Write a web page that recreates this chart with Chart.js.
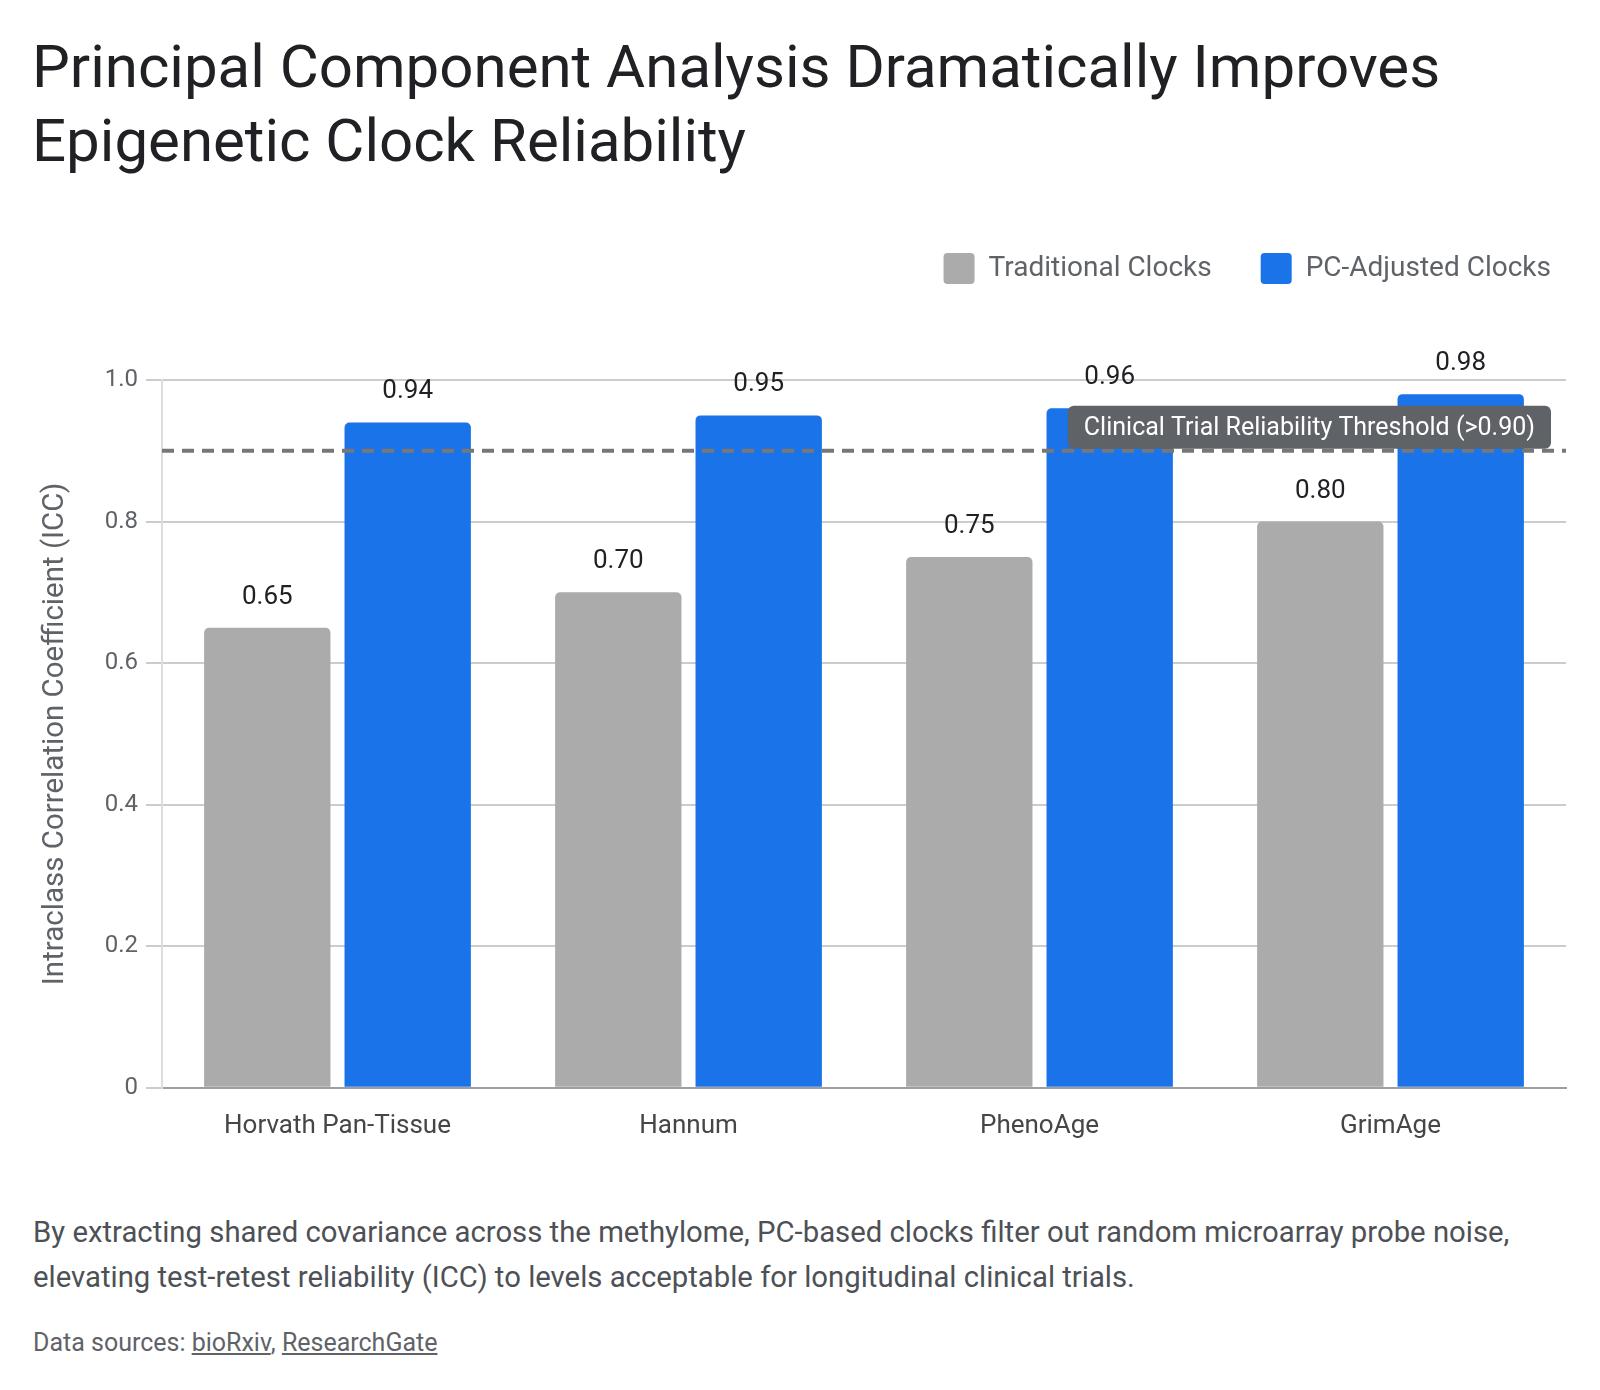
<!DOCTYPE html>
<html>
<head>
<meta charset="utf-8">
<script src="https://cdn.jsdelivr.net/npm/chart.js@4.4.1/dist/chart.umd.min.js"></script>
<style>
  html, body { margin: 0; padding: 0; background: #ffffff; }
  body { width: 1600px; height: 1390px; position: relative; overflow: hidden; font-family: Roboto, "Noto Sans", sans-serif; }
  #title { position: absolute; left: 32px; top: 30px; font-size: 60px; line-height: 74px; color: #202124; font-weight: 400; }
  #wrap { position: absolute; left: 0; top: 184px; width: 1600px; height: 981px; }
  #sub { position: absolute; left: 33px; top: 1210px; width: 1560px; font-size: 29.3px; line-height: 45px; color: #4d5156; white-space: nowrap; }
  #src { position: absolute; left: 33px; top: 1328px; font-size: 25px; color: #5f6368; }
  #src a { color: #5f6368; text-decoration: underline; }
</style>
</head>
<body>
<div id="title">Principal Component Analysis Dramatically Improves<br>Epigenetic Clock Reliability</div>
<div id="wrap"><canvas id="c"></canvas></div>
<div id="sub">By extracting shared covariance across the methylome, PC-based clocks filter out random microarray probe noise,<br>elevating test-retest reliability (ICC) to levels acceptable for longitudinal clinical trials.</div>
<div id="src">Data sources: <a>bioRxiv</a>, <a>ResearchGate</a></div>
<script>
const categories = ["Horvath Pan-Tissue", "Hannum", "PhenoAge", "GrimAge"];
const traditionalICC = [0.65, 0.70, 0.75, 0.80];
const pcAdjustedICC = [0.94, 0.95, 0.96, 0.98];
const seriesNames = ["Traditional Clocks", "PC-Adjusted Clocks"];
const yTicks = [0, 0.2, 0.4, 0.6, 0.8, 1.0];
const thresholdValue = 0.90;
const thresholdLabel = "Clinical Trial Reliability Threshold (>0.90)";
const yAxisTitle = "Intraclass Correlation Coefficient (ICC)";

const FONT = "Roboto, 'Noto Sans', sans-serif";

const legendSpacer = {
  id: 'legendSpacer',
  beforeInit(chart) {
    const origFit = chart.legend.fit;
    chart.legend.fit = function () {
      origFit.bind(chart.legend)();
      this.height += 86;
    };
  },
  afterLayout(chart) {
    chart.legend.left += 34;
    chart.legend.right += 34;
  }
};

const valueLabels = {
  id: 'valueLabels',
  afterDatasetsDraw(chart) {
    const ctx = chart.ctx;
    ctx.save();
    ctx.font = "26px " + FONT;
    ctx.fillStyle = "#202124";
    ctx.textAlign = "center";
    ctx.textBaseline = "alphabetic";
    chart.data.datasets.forEach((ds, di) => {
      const meta = chart.getDatasetMeta(di);
      meta.data.forEach((bar, i) => {
        ctx.fillText(ds.data[i].toFixed(2), bar.x, bar.y - 24);
      });
    });
    ctx.restore();
  }
};

const thresholdPlugin = {
  id: 'threshold',
  afterDatasetsDraw(chart) {
    const ctx = chart.ctx;
    const area = chart.chartArea;
    const y = chart.scales.y.getPixelForValue(thresholdValue);
    ctx.save();
    ctx.strokeStyle = "#777777";
    ctx.lineWidth = 4;
    ctx.setLineDash([12, 8]);
    ctx.beginPath();
    ctx.moveTo(area.left, y);
    ctx.lineTo(area.right, y);
    ctx.stroke();
    ctx.setLineDash([]);
    ctx.font = "25px " + FONT;
    const tw = ctx.measureText(thresholdLabel).width;
    const padX = 16, h = 43;
    const right = area.right - 15;
    const left = right - tw - padX * 2;
    const top = y - 2 - h;
    ctx.fillStyle = "#5f6368";
    ctx.beginPath();
    ctx.roundRect(left, top, right - left, h, 6);
    ctx.fill();
    ctx.fillStyle = "#ffffff";
    ctx.textAlign = "left";
    ctx.textBaseline = "middle";
    ctx.fillText(thresholdLabel, left + padX, top + h / 2 + 1);
    ctx.restore();
  }
};

new Chart(document.getElementById('c'), {
  type: 'bar',
  data: {
    labels: categories,
    datasets: [
      { label: seriesNames[0], data: traditionalICC, backgroundColor: "#ababab", borderRadius: 5, borderSkipped: 'bottom', categoryPercentage: 0.8, barPercentage: 0.9 },
      { label: seriesNames[1], data: pcAdjustedICC, backgroundColor: "#1a73e8", borderRadius: 5, borderSkipped: 'bottom', categoryPercentage: 0.8, barPercentage: 0.9 }
    ]
  },
  options: {
    responsive: true,
    maintainAspectRatio: false,
    animation: false,
    devicePixelRatio: 1,
    layout: { padding: { left: 0, right: 34, top: 20, bottom: 0 } },
    plugins: {
      legend: {
        position: 'top',
        align: 'end',
        labels: {
          boxWidth: 31,
          boxHeight: 31,
          useBorderRadius: true,
          borderRadius: 4,
          padding: 49,
          color: "#5f6368",
          font: { family: FONT, size: 28 }
        }
      },
      tooltip: { enabled: false }
    },
    scales: {
      x: {
        grid: { display: false, drawTicks: false },
        border: { display: true, color: "#9e9e9e", width: 2 },
        ticks: { color: "#444746", font: { family: FONT, size: 26 }, padding: 23 }
      },
      y: {
        min: 0,
        max: 1,
        afterBuildTicks(scale) { scale.ticks = yTicks.map(v => ({ value: v })); },
        afterFit(scale) { scale.width = 162; },
        grid: { color: "#cccccc", lineWidth: 2, tickLength: 16, drawTicks: true },
        border: { display: true, color: "#dddddd", width: 2 },
        ticks: {
          color: "#5f6368",
          font: { family: FONT, size: 24 },
          padding: 8,
          callback: (v) => (v === 0 ? "0" : Number(v).toFixed(1))
        },
        title: {
          display: true,
          text: yAxisTitle,
          color: "#5f6368",
          font: { family: FONT, size: 29.5 },
          padding: { top: 38, bottom: 0 }
        }
      }
    }
  },
  plugins: [legendSpacer, valueLabels, thresholdPlugin]
});
</script>
</body>
</html>
